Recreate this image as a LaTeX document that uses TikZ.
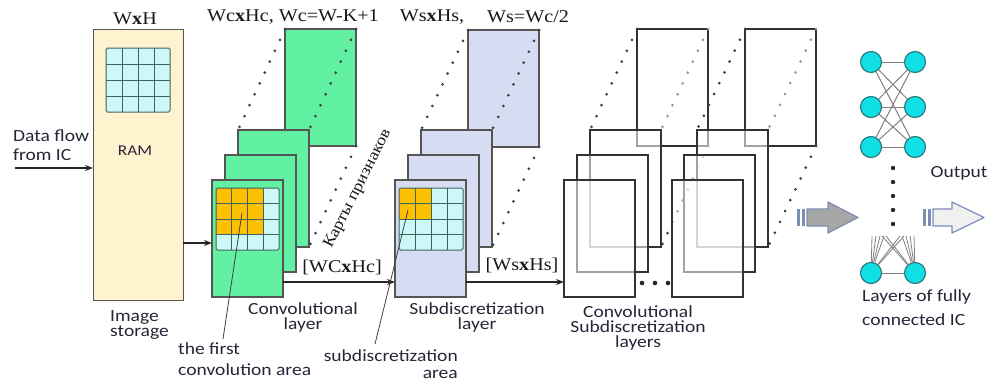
\documentclass[tikz,border=0pt]{standalone}
\usepackage{fontspec}
\setmainfont{Liberation Serif}[FakeStretch=1.12]
\newfontfamily\calfont{Carlito}[FakeStretch=1.15]
\usetikzlibrary{arrows.meta}

\definecolor{convg}{HTML}{62F0A2}
\definecolor{subb}{HTML}{D6DDF2}
\definecolor{cellc}{HTML}{CCF8F8}
\definecolor{orng}{HTML}{FFC000}
\definecolor{ramc}{HTML}{FFF2CF}
\definecolor{edgec}{HTML}{555555}
\definecolor{gridl}{HTML}{3F6262}
\definecolor{neur}{HTML}{10E0E6}
\definecolor{neurl}{HTML}{2C7C80}
\definecolor{arrl}{HTML}{7C8DB5}
\definecolor{txtc}{HTML}{2A2438}

\newcommand\cellgrid[5]{%
  \begin{scope}[shift={(#1,#2)}]
    \fill[cellc, rounded corners=1.5pt] (0,0) rectangle (4*#3,4*#4);
    \ifnum#5>0 \fill[orng] (0,0) rectangle (#5*#3,#5*#4); \fi
    \foreach \i in {1,2,3} {
      \draw[gridl, line width=1pt] (\i*#3,0) -- (\i*#3,4*#4);
      \draw[gridl, line width=1pt] (0,\i*#4) -- (4*#3,\i*#4);
    }
    \draw[gridl, line width=1pt, rounded corners=1.5pt] (0,0) rectangle (4*#3,4*#4);
  \end{scope}}

\tikzset{
  fmap/.style={draw=edgec, line width=1.3pt, anchor=north west, minimum width=71pt,
    minimum height=117pt, inner sep=0pt, outer sep=0pt},
  wmap/.style={fmap, draw=black!80, fill=white, fill opacity=0.55},
  dots/.style={line width=3pt, line cap=round, dash pattern=on 0pt off 12pt, draw=black!75},
  ldots/.style={dots, draw=black!40},
  lbl/.style={font=\calfont\fontsize{17}{15}\selectfont, text=txtc, inner sep=0pt},
  slbl/.style={font=\fontsize{18}{20}\selectfont, text=black!90, inner sep=0pt},
  conn/.style={-{Stealth[length=8pt,width=6pt]}, line width=1.3pt, draw=black!85},
  pointer/.style={line width=0.8pt, draw=black!75},
  neuron/.style={circle, fill=neur, draw=neurl, line width=1.2pt, minimum size=21pt, inner sep=0pt},
  syn/.style={draw=gray, line width=1pt},
  bigarrow/.style={draw=arrl, line width=1.2pt, line join=round},
}

\begin{document}
\begin{tikzpicture}[x=1pt, y=-1pt]
\useasboundingbox (0,0) rectangle (992,383);
\fill[white] (0,0) rectangle (992,383);

% ---------- RAM ----------
\node[draw=edgec, fill=ramc, line width=1.3pt, anchor=north west, minimum width=90pt,
  minimum height=271pt, inner sep=0pt] (ram) at (93,29) {};
\cellgrid{106}{48}{16}{16}{0}
\node[lbl, font=\calfont\fontsize{15}{15}\selectfont] (ramt) at (135,151) {RAM};
\node[slbl] (wxh) at (135,19) {W{\bfseries x}H};
\node[lbl, align=left, anchor=west, font=\calfont\fontsize{17}{19}\selectfont] (df) at (13,145) {Data flow\\from IC};
\coordinate (dfin) at (15,168);
\draw[conn] (dfin) -- (dfin -| ram.west);
\node[lbl, align=left, anchor=west] (imst) at (110,325) {Image\\storage};

% ---------- Convolutional layer ----------
\node[fmap, fill=convg] (c4) at (285,29) {};
\node[fmap, fill=convg] (c3) at (238,130) {};
\node[fmap, fill=convg] (c2) at (225,155) {};
\node[fmap, fill=convg] (c1) at (212,180) {};
\draw[dots] (c4.north west) -- (c3.north west);
\draw[dots] (c4.north east) -- (c3.north east);
\draw[dots] (c4.south east) -- (c3.south east);
\cellgrid{216}{188}{15.75}{15.5}{3}
\node[slbl] (wc) at (293,17) {Wc{\bfseries x}Hc, Wc=W-K+1};
\node[slbl, rotate=63, font=\fontsize{16}{16}\selectfont] (kp) at (358,189) {Карты признаков};
\node[lbl, align=center] (cl) at (303,317) {Convolutional\\layer};
\node[slbl] (wchc) at (342,267) {[WC{\bfseries x}Hc]};

\coordinate (a1) at (183,243);
\draw[conn] (a1) -- (a1 -| c1.west);
\coordinate (y282) at (0,282);

% ---------- Subdiscretization layer ----------
\node[fmap, fill=subb] (s4) at (468,30) {};
\node[fmap, fill=subb] (s3) at (421,130) {};
\node[fmap, fill=subb] (s2) at (408,155) {};
\node[fmap, fill=subb] (s1) at (395,180) {};
\draw[dots] (s4.north west) -- (s3.north west);
\draw[dots] (s4.north east) -- (s3.north east);
\draw[dots] (s4.south east) -- (s3.south east);
\cellgrid{399}{188}{16}{15.5}{2}
\node[slbl] (ws1) at (432,17) {Ws{\bfseries x}Hs,};
\node[slbl] (ws2) at (528,17) {Ws=Wc/2};
\node[lbl, align=center] (sl) at (477,317) {Subdiscretization\\layer};
\node[slbl] (wshs) at (522,265) {[Ws{\bfseries x}Hs]};
\draw[conn] (c1.east |- y282) -- (s1.west |- y282);

% ---------- pointers ----------
\node[lbl, align=left, anchor=west, font=\calfont\fontsize{17}{21}\selectfont] (tf) at (178,359) {the first\\convolution area};
\node[lbl, align=right, anchor=east, font=\calfont\fontsize{17}{17}\selectfont] (sa) at (458,364) {subdiscretization\\area};
\coordinate (tfp) at (223,339);
\coordinate (oc) at (242,213);
\draw[pointer] (tfp) -- (oc);
\coordinate (sap) at (375,344);
\coordinate (os) at (408,210);
\draw[pointer] (sap) -- (os);

% ---------- further conv / subdisc layers ----------
\node[wmap] (w4) at (637,29) {};
\node[wmap] (w3) at (590,130) {};
\node[wmap] (w2) at (577,155) {};
\node[wmap] (w1) at (564,180) {};
\draw[dots] (w4.north west) -- (w3.north west);
\draw[ldots] (w4.north east) -- (w3.north east);
\draw[dots] (w4.south east) -- (w3.south east);

\node[wmap] (v4) at (745,29) {};
\node[wmap] (v3) at (697,130) {};
\node[wmap] (v2) at (684,155) {};
\node[wmap] (v1) at (672,180) {};
\draw[dots] (v4.north west) -- (v3.north west);
\draw[ldots] (v4.north east) -- (v3.north east);
\draw[dots] (v4.south east) -- (v3.south east);

\draw[conn] (s1.east |- y282) -- (w1.west |- y282);
\foreach \xx in {642,655,668} \fill[black!85] (\xx,283) circle (2.3pt);
\node[lbl, align=center] (csl) at (638,328) {Convolutional\\Subdiscretization\\layers};

% ---------- big arrow ----------
\fill[arrl] (797,209) rectangle (800,226);
\fill[arrl] (802,209) rectangle (805,226);
\draw[bigarrow, fill=black!35] (807,209) -- (828,209) -- (828,202) -- (858,217.5) -- (828,233) -- (828,226) -- (807,226) -- cycle;

% ---------- fully connected ----------
\node[neuron] (n11) at (871,62) {};
\node[neuron] (n12) at (915,62) {};
\node[neuron] (n21) at (871,107) {};
\node[neuron] (n22) at (915,107) {};
\node[neuron] (n31) at (871,147) {};
\node[neuron] (n32) at (915,147) {};
\node[neuron] (nb1) at (871,273) {};
\node[neuron] (nb2) at (915,273) {};
\foreach \i in {1,2,3} \foreach \j in {1,2,3} \draw[syn] (n\i1) -- (n\j2);
\draw[syn] (nb1) -- (nb2);
\foreach \k/\xx in {1/872,2/876,3/880,4/884,5/900,6/904} {
  \coordinate (fa\k) at (\xx,236);
  \draw[syn, line width=0.8pt] (nb1) -- (fa\k);
}
\foreach \k/\xx in {1/882,2/886,3/902,4/906,5/910,6/914} {
  \coordinate (fb\k) at (\xx,236);
  \draw[syn, line width=0.8pt] (nb2) -- (fb\k);
}
\foreach \yy in {168,182,196,210,224} \fill[black!85] (893,\yy) circle (2.2pt);
\node[lbl, align=left, anchor=west, font=\calfont\fontsize{17}{24}\selectfont] (fc) at (862,308) {Layers of fully\\connected IC};

% ---------- output arrow ----------
\fill[arrl] (923,209) rectangle (926,226);
\fill[arrl] (928,209) rectangle (931,226);
\draw[bigarrow, fill=black!6] (933,209) -- (952,209) -- (952,202) -- (984,217.5) -- (952,233) -- (952,226) -- (933,226) -- cycle;
\node[lbl] (out) at (959,173) {Output};
\end{tikzpicture}
\end{document}
